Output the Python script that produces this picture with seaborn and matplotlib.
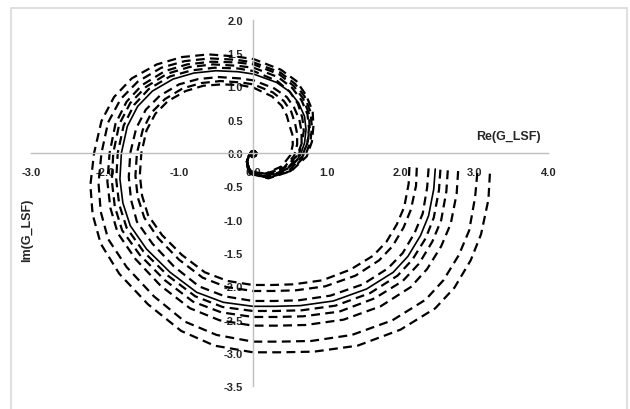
import matplotlib
matplotlib.use('Agg')
import matplotlib.pyplot as plt
import seaborn as sns
import pandas as pd
from matplotlib.patches import Rectangle

sns.set_style("white")
plt.rcParams['font.family'] = ['Liberation Sans', 'DejaVu Sans']
plt.rcParams['axes.unicode_minus'] = False

# --- data (Re, Im) ---
loop_x = [-0.02, 0.02, 0.05, 0.04, 0.00, -0.03, 0.00]
loop_y = [0.02, 0.03, 0.00, -0.04, -0.06, -0.04, 0.00]

solid_x = [2.47, 2.45, 2.38, 2.27, 2.10, 1.90, 1.54, 1.09, 0.64, 0.30, 0.00, -0.40, -0.76, -1.12, -1.44, -1.66,
           -1.76, -1.80, -1.78, -1.70, -1.56, -1.36, -1.08, -0.80, -0.50, -0.20, 0.01, 0.32, 0.50, 0.62, 0.70,
           0.72, 0.70, 0.64, 0.55, 0.46, 0.32, 0.19, 0.06, -0.04, -0.08, -0.08, -0.05] + loop_x
solid_y = [-0.24, -0.54, -0.94, -1.24, -1.55, -1.79, -2.04, -2.22, -2.29, -2.30, -2.30, -2.24, -2.09, -1.79, -1.44,
           -1.09, -0.75, -0.39, 0.00, 0.40, 0.70, 0.93, 1.11, 1.20, 1.235, 1.22, 1.185, 1.06, 0.92, 0.75, 0.55,
           0.35, 0.15, -0.04, -0.16, -0.24, -0.31, -0.34, -0.33, -0.29, -0.21, -0.13, -0.03] + loop_y

d1_x = [2.12, 2.11, 2.05, 1.95, 1.81, 1.63, 1.32, 0.94, 0.55, 0.26, 0.00, -0.34, -0.65, -0.96, -1.23, -1.42, -1.50,
        -1.53, -1.51, -1.44, -1.32, -1.15, -0.91, -0.67, -0.42, -0.17, 0.01, 0.26, 0.39, 0.46, 0.50, 0.54, 0.54,
        0.51, 0.39, 0.17, -0.04, -0.08, -0.05] + loop_x
d1_y = [-0.21, -0.46, -0.81, -1.07, -1.33, -1.54, -1.75, -1.91, -1.97, -1.98, -1.98, -1.92, -1.79, -1.53, -1.23,
        -0.93, -0.64, -0.33, 0.00, 0.34, 0.59, 0.78, 0.93, 1.01, 1.03, 1.02, 0.98, 0.85, 0.71, 0.56, 0.40, 0.26,
        0.12, -0.03, -0.20, -0.31, -0.27, -0.13, -0.03] + loop_y

d2_x = [2.22, 2.21, 2.14, 2.04, 1.89, 1.71, 1.39, 0.98, 0.58, 0.27, 0.00, -0.36, -0.68, -1.00, -1.28, -1.47, -1.56,
        -1.59, -1.57, -1.49, -1.37, -1.19, -0.95, -0.70, -0.44, -0.17, 0.01, 0.27, 0.42, 0.52, 0.57, 0.60, 0.60,
        0.56, 0.42, 0.18, -0.04, -0.08, -0.05] + loop_x
d2_y = [-0.22, -0.49, -0.85, -1.12, -1.40, -1.61, -1.84, -2.00, -2.06, -2.07, -2.07, -2.01, -1.87, -1.60, -1.28,
        -0.97, -0.66, -0.34, 0.00, 0.35, 0.61, 0.81, 0.97, 1.05, 1.08, 1.06, 1.03, 0.91, 0.78, 0.62, 0.45, 0.29,
        0.13, -0.04, -0.22, -0.32, -0.28, -0.13, -0.03] + loop_y

d3_x = [2.38, 2.36, 2.30, 2.19, 2.03, 1.83, 1.49, 1.05, 0.62, 0.29, 0.00, -0.38, -0.73, -1.07, -1.36, -1.57, -1.65,
        -1.68, -1.66, -1.58, -1.45, -1.26, -1.00, -0.74, -0.46, -0.18, 0.01, 0.29, 0.46, 0.56, 0.63, 0.66, 0.66,
        0.62, 0.46, 0.20, -0.04, -0.08, -0.05] + loop_x
d3_y = [-0.23, -0.52, -0.91, -1.20, -1.50, -1.73, -1.97, -2.14, -2.21, -2.22, -2.22, -2.15, -2.00, -1.70, -1.36,
        -1.03, -0.70, -0.36, 0.00, 0.37, 0.65, 0.86, 1.03, 1.11, 1.14, 1.12, 1.09, 0.97, 0.84, 0.68, 0.50, 0.32,
        0.14, -0.04, -0.24, -0.36, -0.30, -0.13, -0.03] + loop_y

d4_x = [2.54, 2.52, 2.45, 2.34, 2.16, 1.96, 1.59, 1.12, 0.66, 0.31, 0.00, -0.41, -0.78, -1.15, -1.48, -1.71, -1.81,
        -1.85, -1.83, -1.75, -1.61, -1.41, -1.12, -0.83, -0.52, -0.21, 0.01, 0.33, 0.50, 0.61, 0.67, 0.69, 0.66,
        0.60, 0.43, 0.17, -0.04, -0.08, -0.05] + loop_x
d4_y = [-0.25, -0.56, -0.97, -1.28, -1.60, -1.84, -2.10, -2.29, -2.36, -2.37, -2.37, -2.31, -2.15, -1.84, -1.48,
        -1.12, -0.77, -0.40, 0.00, 0.41, 0.72, 0.96, 1.15, 1.24, 1.28, 1.27, 1.23, 1.08, 0.92, 0.74, 0.53, 0.33,
        0.14, -0.04, -0.22, -0.31, -0.28, -0.13, -0.03] + loop_y

d5_x = [2.64, 2.62, 2.55, 2.43, 2.25, 2.03, 1.65, 1.17, 0.68, 0.32, 0.00, -0.43, -0.81, -1.19, -1.53, -1.77, -1.87,
        -1.91, -1.89, -1.81, -1.66, -1.45, -1.16, -0.86, -0.54, -0.22, 0.01, 0.34, 0.53, 0.66, 0.74, 0.76, 0.74,
        0.68, 0.49, 0.21, -0.04, -0.08, -0.05] + loop_x
d5_y = [-0.26, -0.58, -1.01, -1.33, -1.66, -1.92, -2.18, -2.38, -2.45, -2.46, -2.46, -2.39, -2.23, -1.91, -1.53,
        -1.16, -0.80, -0.41, 0.00, 0.43, 0.75, 0.99, 1.19, 1.29, 1.33, 1.31, 1.28, 1.14, 0.98, 0.79, 0.58, 0.37,
        0.16, -0.04, -0.26, -0.37, -0.30, -0.13, -0.03] + loop_y

d6_x = [2.78, 2.76, 2.68, 2.55, 2.36, 2.14, 1.73, 1.23, 0.72, 0.34, 0.00, -0.45, -0.85, -1.25, -1.59, -1.83, -1.93,
        -1.97, -1.94, -1.86, -1.71, -1.50, -1.19, -0.89, -0.56, -0.22, 0.01, 0.36, 0.55, 0.68, 0.76, 0.77, 0.74,
        0.67, 0.46, 0.18, -0.04, -0.08, -0.05] + loop_x
d6_y = [-0.27, -0.61, -1.06, -1.40, -1.74, -2.01, -2.30, -2.50, -2.58, -2.59, -2.59, -2.51, -2.33, -1.99, -1.59,
        -1.20, -0.82, -0.43, 0.00, 0.44, 0.77, 1.02, 1.23, 1.33, 1.37, 1.36, 1.33, 1.18, 1.01, 0.82, 0.59, 0.37,
        0.16, -0.04, -0.24, -0.33, -0.29, -0.13, -0.03] + loop_y

d7_x = [3.04, 3.01, 2.93, 2.79, 2.58, 2.34, 1.89, 1.34, 0.79, 0.37, 0.00, -0.49, -0.92, -1.34, -1.71, -1.96, -2.06,
        -2.09, -2.05, -1.96, -1.79, -1.56, -1.24, -0.92, -0.58, -0.23, 0.01, 0.37, 0.57, 0.70, 0.78, 0.80, 0.78,
        0.71, 0.51, 0.21, -0.04, -0.08, -0.05] + loop_x
d7_y = [-0.30, -0.66, -1.16, -1.53, -1.91, -2.20, -2.51, -2.73, -2.82, -2.83, -2.83, -2.73, -2.53, -2.15, -1.71,
        -1.29, -0.88, -0.45, 0.00, 0.46, 0.81, 1.07, 1.28, 1.38, 1.42, 1.40, 1.36, 1.21, 1.04, 0.85, 0.62, 0.39,
        0.17, -0.04, -0.27, -0.37, -0.31, -0.13, -0.03] + loop_y

d8_x = [3.21, 3.19, 3.09, 2.95, 2.73, 2.47, 2.00, 1.42, 0.83, 0.39, 0.00, -0.52, -0.97, -1.42, -1.81, -2.06, -2.17,
        -2.20, -2.15, -2.05, -1.88, -1.64, -1.30, -0.96, -0.60, -0.24, 0.01, 0.38, 0.59, 0.72, 0.81, 0.82, 0.80,
        0.73, 0.52, 0.21, -0.04, -0.08, -0.05] + loop_x
d8_y = [-0.31, -0.70, -1.22, -1.61, -2.02, -2.33, -2.65, -2.89, -2.98, -2.99, -2.99, -2.89, -2.67, -2.27, -1.81,
        -1.36, -0.92, -0.48, 0.00, 0.48, 0.84, 1.12, 1.33, 1.44, 1.48, 1.45, 1.41, 1.25, 1.08, 0.87, 0.63, 0.40,
        0.17, -0.05, -0.27, -0.38, -0.31, -0.13, -0.03] + loop_y

x_ticks = [-3, -2, -1, 0, 1, 2, 3, 4]
y_ticks = [-3.5, -3.0, -2.5, -2.0, -1.5, -1.0, -0.5, 0.0, 0.5, 1.0, 1.5, 2.0]

curves = {
    'G_LSF': (solid_x, solid_y, 'solid'),
    'd1': (d1_x, d1_y, 'dashed'), 'd2': (d2_x, d2_y, 'dashed'),
    'd3': (d3_x, d3_y, 'dashed'), 'd4': (d4_x, d4_y, 'dashed'),
    'd5': (d5_x, d5_y, 'dashed'), 'd6': (d6_x, d6_y, 'dashed'),
    'd7': (d7_x, d7_y, 'dashed'), 'd8': (d8_x, d8_y, 'dashed'),
}

rows = []
for name, (xs, ys, kind) in curves.items():
    assert len(xs) == len(ys), name
    for i, (x, y) in enumerate(zip(xs, ys)):
        rows.append({'curve': name, 'kind': kind, 'i': i, 're': x, 'im': y})
df = pd.DataFrame(rows)

fig = plt.figure(figsize=(6.3, 4.1), dpi=100)
ax = fig.add_axes([0.0497, 0.0554, 0.8205, 0.894])

sns.lineplot(data=df, x='re', y='im', hue='curve', style='kind', size='kind',
             palette={n: 'black' for n in curves}, dashes={'solid': '', 'dashed': (4.0, 2.4)},
             sizes={'solid': 1.2, 'dashed': 1.6}, sort=False, estimator=None, legend=False, ax=ax)

ax.set_xlim(-3, 4)
ax.set_ylim(-3.5, 2)
ax.set_xticks(x_ticks)
ax.set_xticklabels([f'{v:.1f}' for v in x_ticks])
ax.set_yticks(y_ticks)
ax.set_yticklabels([f'{v:.1f}' for v in y_ticks])

# Excel-style axes crossing at the origin
for s in ['top', 'right']:
    ax.spines[s].set_visible(False)
for s in ['left', 'bottom']:
    ax.spines[s].set_position(('data', 0))
    ax.spines[s].set_color('#BFBFBF')
    ax.spines[s].set_linewidth(1.0)
ax.tick_params(axis='x', direction='out', length=3, width=1, color='#BFBFBF', pad=7,
               labelsize=8, labelcolor='#262626')
ax.tick_params(axis='y', direction='out', length=3, width=1, color='#BFBFBF', pad=4,
               labelsize=8, labelcolor='#262626')
for lab in ax.get_xticklabels() + ax.get_yticklabels():
    lab.set_fontweight('bold')
ax.set_xlabel('')
ax.set_ylabel('')

ax.text(3.465, 0.25, 'Re(G_LSF)', fontsize=9, fontweight='bold', color='#262626',
        ha='center', va='center')
ax.text(-3.056, -1.15, 'Im(G_LSF)', fontsize=9, fontweight='bold', color='#262626',
        ha='center', va='center', rotation=90, clip_on=False)

# chart area border
fig.add_artist(Rectangle((11 / 630, -0.05), 616 / 630, 1.028, transform=fig.transFigure,
                         fill=False, ec='#D9D9D9', lw=1.2))

fig.savefig('out.png', dpi=100)
